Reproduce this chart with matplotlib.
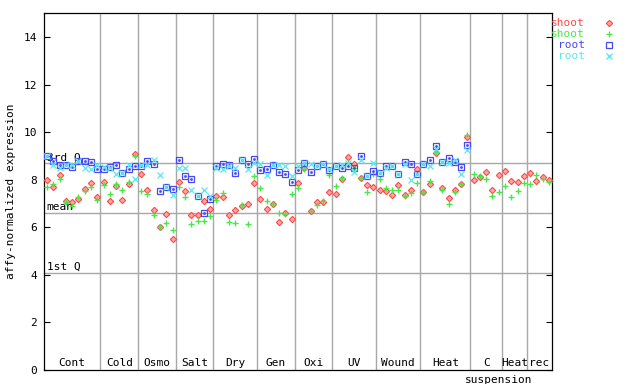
import numpy as np
import matplotlib
matplotlib.use("Agg")
import matplotlib.pyplot as plt
from matplotlib.lines import Line2D

# sample groups (label, number of samples)
groups = ["Cont", "Cold", "Osmo", "Salt", "Dry", "Gen", "Oxi", "UV",
          "Wound", "Heat", "C", "Heat", "rec"]
group_sizes = [9, 6, 6, 6, 7, 6, 6, 7, 7, 8, 5, 4, 4]

shoot_red = [7.97, 7.67, 8.19, 7.08, 7.05, 7.16, 7.60, 7.84, 7.27,
             7.89, 7.08, 7.71, 7.12, 7.81, 9.06,
             8.23, 7.58, 6.70, 5.98, 6.53, 5.49,
             7.91, 7.51, 6.50, 6.51, 7.08, 6.74,
             7.30, 7.25, 6.49, 6.71, 6.88, 6.95, 7.85,
             7.20, 6.74, 6.99, 6.23, 6.57, 6.32,
             7.84, 8.47, 6.67, 7.05, 7.05, 7.46,
             7.37, 8.01, 8.94, 8.64, 8.07, 7.75, 7.67,
             7.58, 7.50, 7.33, 7.75, 7.33, 7.54, 8.43,
             7.46, 7.80, 9.10, 7.63, 7.21, 7.58, 7.80, 9.81,
             7.96, 8.09, 8.30, 7.58, 8.18,
             8.34, 7.92, 7.88, 8.13,
             8.26, 7.92, 8.09, 7.96]

shoot_green = [7.70, 7.82, 8.01, 7.05, 6.90, 7.27, 7.53, 7.67, 7.12,
               7.75, 7.37, 7.81, 7.54, 7.91, 8.98,
               7.50, 7.39, 6.49, 5.98, 6.15, 5.87,
               7.70, 7.26, 6.11, 6.25, 6.25, 6.45,
               7.12, 7.42, 6.23, 6.15, 6.91, 6.11, 8.13,
               7.63, 7.08, 6.95, 6.59, 6.54, 7.41,
               7.63, 8.45, 6.67, 6.91, 7.08, 8.18,
               7.71, 8.07, 8.68, 8.47, 8.05, 7.46, 8.22,
               8.03, 7.63, 7.54, 7.58, 7.29, 7.42, 7.84,
               7.46, 7.92, 9.15, 7.54, 6.99, 7.46, 7.80, 9.86,
               8.22, 8.13, 8.01, 7.29, 7.46,
               7.71, 7.25, 7.50, 7.84,
               7.80, 8.18, 8.01, 7.88]

root_blue = [9.00, 8.78, 8.60, 8.62, 8.51, 8.77, 8.77, 8.72, 8.43,
             8.43, 8.54, 8.60, 8.26, 8.46, 8.57,
             8.57, 8.79, 8.64, 7.50, 7.70, 7.60,
             8.81, 8.14, 8.02, 7.30, 6.58, 7.16,
             8.55, 8.64, 8.60, 8.26, 8.81, 8.64, 8.85,
             8.39, 8.43, 8.60, 8.30, 8.22, 7.88,
             8.39, 8.68, 8.30, 8.55, 8.64, 8.39,
             8.55, 8.47, 8.55, 8.47, 8.98, 8.13, 8.34,
             8.26, 8.55, 8.55, 8.22, 8.72, 8.64, 8.22,
             8.64, 8.81, 9.40, 8.72, 8.89, 8.72, 8.51, 9.44]

root_cyan = [9.00, 8.61, 8.47, 8.62, 8.60, 8.77, 8.50, 8.44, 8.62,
             8.54, 8.50, 8.24, 8.26, 8.62, 8.03,
             8.62, 8.62, 8.81, 8.19, 7.70, 7.33,
             8.48, 8.48, 7.54, 7.32, 7.54, 7.32,
             8.47, 8.43, 8.58, 8.47, 8.81, 8.43, 8.68,
             8.64, 8.17, 8.60, 8.60, 8.55, 8.13,
             8.55, 8.68, 8.64, 8.55, 8.64, 8.45,
             8.55, 8.60, 8.68, 8.30, 8.81, 8.13, 8.68,
             8.26, 8.47, 8.55, 8.22, 8.64, 8.00, 8.22,
             8.64, 8.55, 9.27, 8.72, 8.68, 8.81, 8.22, 9.23]

quartiles = {"3rd Q": 8.68, "mean": 6.61, "1st Q": 4.08}

RED = "#ff4848"
GREEN = "#48e848"
BLUE = "#4848f0"
CYAN = "#58e8f0"
GRID = "#a8a8a8"
FONT = "DejaVu Sans Mono"

n = sum(group_sizes)
fig = plt.figure(figsize=(6.4, 3.84), dpi=100)
ax = fig.add_axes([44 / 640, 1 - 369.5 / 384, 508 / 640, (369.5 - 13.3) / 384])

# group separators and reference lines
bounds = np.cumsum(group_sizes)
for b in bounds[:-1]:
    ax.axvline(b, color=GRID, lw=1.0, zorder=1)
for name, val in quartiles.items():
    ax.axhline(val, color=GRID, lw=1.0, zorder=1)
    ax.text(0.4, val + 0.02, name, fontsize=8, family=FONT, va="bottom",
            ha="left", zorder=2)

xs = np.arange(n) + 0.5
xr = xs[:len(root_blue)]
ax.plot(xs, shoot_red, ls="none", marker="D", ms=3.2, mfc="#ffa8a8",
        mec=RED, mew=0.8, zorder=3)
ax.plot(xs, shoot_green, ls="none", marker="+", ms=5.0, mew=1.0,
        color=GREEN, zorder=3)
ax.plot(xr, root_blue, ls="none", marker="s", ms=4.0, mfc="none",
        mec=BLUE, mew=0.9, zorder=4)
ax.plot(xr, root_blue, ls="none", marker="s", ms=0.9, color=BLUE, zorder=4)
ax.plot(xr, root_cyan, ls="none", marker="x", ms=3.8, mew=0.9,
        color=CYAN, zorder=4)

# group labels inside the bottom of the plot
starts = np.concatenate([[0], bounds[:-1]])
for name, s, e in zip(groups, starts, bounds):
    ax.text((s + e) / 2, 0.06, name, fontsize=8, family=FONT,
            ha="center", va="bottom", zorder=5)
ax.text(72.5, -0.25, "suspension", fontsize=8, family=FONT,
        ha="center", va="top", clip_on=False)

ax.set_xlim(0, n)
ax.set_ylim(0, 15)
ax.set_xticks([])
ax.set_yticks(np.arange(0, 15, 2))
ax.tick_params(axis="y", direction="in", length=4.3, width=0.8,
               right=True, pad=5.0, labelsize=8)
for lab in ax.get_yticklabels():
    lab.set_family(FONT)
for sp in ax.spines.values():
    sp.set_linewidth(0.9)
ax.set_ylabel("affy-normalized expression", fontsize=8, family=FONT)
ax.yaxis.set_label_coords(-0.055, 0.5)

# legend outside on the right
legend_items = [("shoot", RED, "D"), ("shoot", GREEN, "+"),
                ("root", BLUE, "s"), ("root", CYAN, "x")]
for k, (lab, col, mk) in enumerate(legend_items):
    y = 1 - (23.3 + 11 * k) / 384
    fig.text(585 / 640, y, lab, color=col, fontsize=8, family=FONT,
             ha="right", va="center")
    if mk == "D":
        kw = dict(ms=3.2, mfc="#ffa8a8", mec=col, mew=0.8)
    elif mk == "s":
        kw = dict(ms=4.0, mfc="none", mec=col, mew=0.9)
    else:
        kw = dict(ms=4.5, color=col, mew=1.0)
    fig.add_artist(Line2D([609 / 640], [y], marker=mk, ls="none",
                          transform=fig.transFigure, **kw))

fig.savefig("out.png", dpi=100)
